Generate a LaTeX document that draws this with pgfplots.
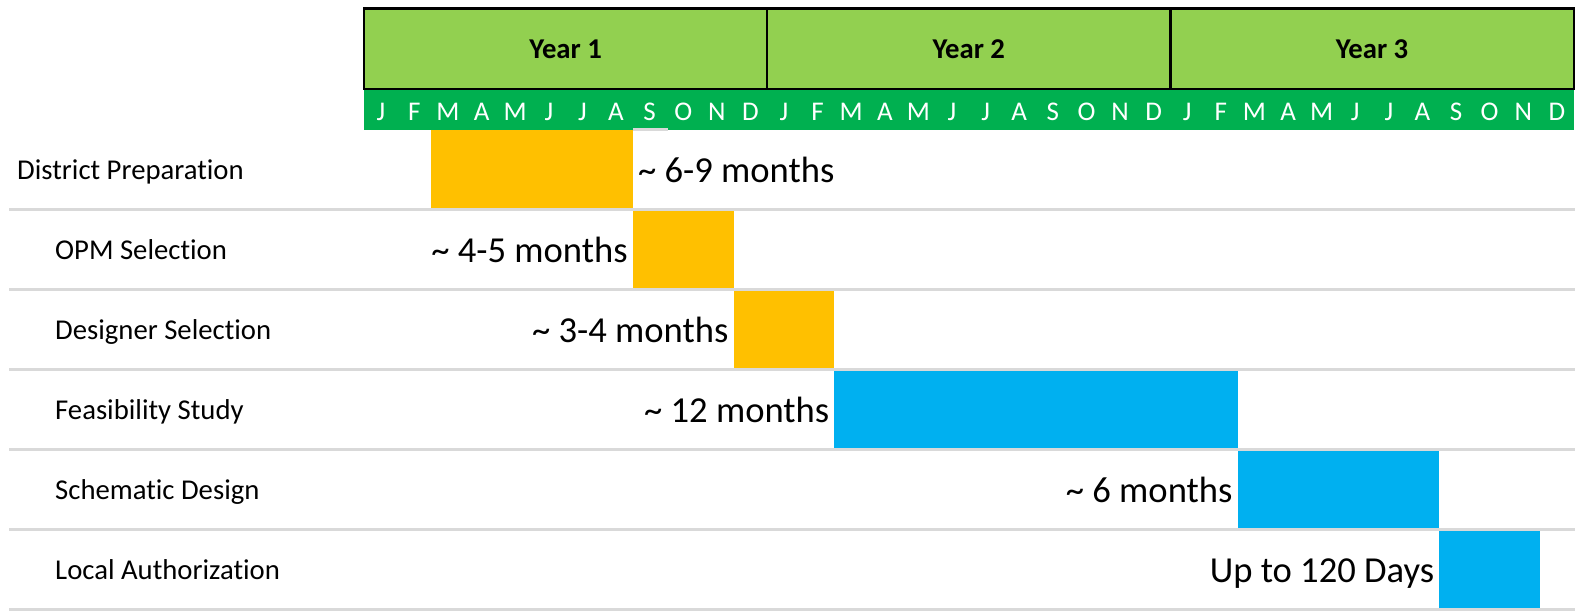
\documentclass[border=0pt]{standalone}
\usepackage{fontspec}
\setmainfont[Ligatures={NoCommon}]{Carlito}
\usepackage{pgfplots}
\pgfplotsset{compat=1.18}
\definecolor{yearfill}{HTML}{92D050}
\definecolor{monthfill}{HTML}{00B050}
\definecolor{ganttyellow}{HTML}{FFC000}
\definecolor{ganttblue}{HTML}{00B0F0}
\definecolor{rowline}{HTML}{D9D9D9}

\newcommand{\rowfont}{\fontsize{28.7}{32}\selectfont}
\newcommand{\durfont}{\fontsize{36.6}{42}\selectfont}

\begin{document}
\begin{tikzpicture}
\begin{axis}[
    scale only axis,
    width=1575pt, height=610pt,
    xmin=-10.833, xmax=36.04,
    ymin=-1.619, ymax=6.006,
    y dir=reverse,
    hide axis,
    clip=false,
    bar/.style={mark=none, line cap=butt, line width=79pt},
]
% task bars: start month -> end month, row centre
\addplot[bar, ganttyellow] coordinates {(2,0.5) (8,0.5)};   % District Preparation
\addplot[bar, ganttyellow] coordinates {(8,1.5) (11,1.5)};  % OPM Selection
\addplot[bar, ganttyellow] coordinates {(11,2.5) (14,2.5)}; % Designer Selection
\addplot[bar, ganttblue] coordinates {(14,3.5) (26,3.5)};   % Feasibility Study
\addplot[bar, ganttblue] coordinates {(26,4.5) (32,4.5)};   % Schematic Design
\addplot[bar, ganttblue] coordinates {(32,5.5) (35,5.5)};   % Local Authorization

% header: months row and year boxes
\fill[monthfill] (axis cs:0,-0.506) rectangle (axis cs:36,0);
\draw[fill=yearfill, line width=2.2pt] (axis cs:0,-1.5125) rectangle (axis cs:36,-0.506);
\draw[line width=2.2pt] (axis cs:12,-1.5125) -- (axis cs:12,-0.506);
\draw[line width=2.2pt] (axis cs:24,-1.5125) -- (axis cs:24,-0.506);
\node[anchor=base, font=\fontsize{28.7}{32}\selectfont\bfseries] at (axis cs:6,-0.89) {Year 1};
\node[anchor=base, font=\fontsize{28.7}{32}\selectfont\bfseries] at (axis cs:18,-0.89) {Year 2};
\node[anchor=base, font=\fontsize{28.7}{32}\selectfont\bfseries] at (axis cs:30,-0.89) {Year 3};

% month letters
\addplot[draw=none, mark=none, nodes near coords, point meta=explicit symbolic,
    nodes near coords style={anchor=base, text=white, inner sep=0pt,
        font=\fontsize{27}{30}\selectfont}]
coordinates {
    (0.5,-0.11) [J] (1.5,-0.11) [F] (2.5,-0.11) [M] (3.5,-0.11) [A]
    (4.5,-0.11) [M] (5.5,-0.11) [J] (6.5,-0.11) [J] (7.5,-0.11) [A]
    (8.5,-0.11) [S] (9.5,-0.11) [O] (10.5,-0.11) [N] (11.5,-0.11) [D]
    (12.5,-0.11) [J] (13.5,-0.11) [F] (14.5,-0.11) [M] (15.5,-0.11) [A]
    (16.5,-0.11) [M] (17.5,-0.11) [J] (18.5,-0.11) [J] (19.5,-0.11) [A]
    (20.5,-0.11) [S] (21.5,-0.11) [O] (22.5,-0.11) [N] (23.5,-0.11) [D]
    (24.5,-0.11) [J] (25.5,-0.11) [F] (26.5,-0.11) [M] (27.5,-0.11) [A]
    (28.5,-0.11) [M] (29.5,-0.11) [J] (30.5,-0.11) [J] (31.5,-0.11) [A]
    (32.5,-0.11) [S] (33.5,-0.11) [O] (34.5,-0.11) [N] (35.5,-0.11) [D]
};

% row separators
\pgfplotsinvokeforeach{1,...,6}{
    \draw[rowline, line width=2.5pt] (axis cs:-10.557,#1) -- (axis cs:36.04,#1);
}
\draw[rowline, line width=2.5pt] (axis cs:8.0,0) -- (axis cs:9.05,0);

% task names
\node[anchor=base west, inner sep=0pt, font=\rowfont] at (axis cs:-10.327,0.63) {District Preparation};
\node[anchor=base west, inner sep=0pt, font=\rowfont] at (axis cs:-9.196,1.63) {OPM Selection};
\node[anchor=base west, inner sep=0pt, font=\rowfont] at (axis cs:-9.196,2.63) {Designer Selection};
\node[anchor=base west, inner sep=0pt, font=\rowfont] at (axis cs:-9.196,3.63) {Feasibility Study};
\node[anchor=base west, inner sep=0pt, font=\rowfont] at (axis cs:-9.196,4.63) {Schematic Design};
\node[anchor=base west, inner sep=0pt, font=\rowfont] at (axis cs:-9.196,5.63) {Local Authorization};

% durations
\node[anchor=base west, inner sep=0pt, xshift=5pt, font=\durfont] at (axis cs:8,0.665) {\textasciitilde\ 6-9 months};
\node[anchor=base east, inner sep=0pt, xshift=-5pt, font=\durfont] at (axis cs:8,1.665) {\textasciitilde\ 4-5 months};
\node[anchor=base east, inner sep=0pt, xshift=-5pt, font=\durfont] at (axis cs:11,2.665) {\textasciitilde\ 3-4 months};
\node[anchor=base east, inner sep=0pt, xshift=-5pt, font=\durfont] at (axis cs:14,3.665) {\textasciitilde\ 12 months};
\node[anchor=base east, inner sep=0pt, xshift=-5pt, font=\durfont] at (axis cs:26,4.665) {\textasciitilde\ 6 months};
\node[anchor=base east, inner sep=0pt, xshift=-5pt, font=\durfont] at (axis cs:32,5.665) {Up to 120 Days};
\end{axis}
\pgfresetboundingbox
\path (current axis.south west) rectangle (current axis.north east);
\end{tikzpicture}
\end{document}
